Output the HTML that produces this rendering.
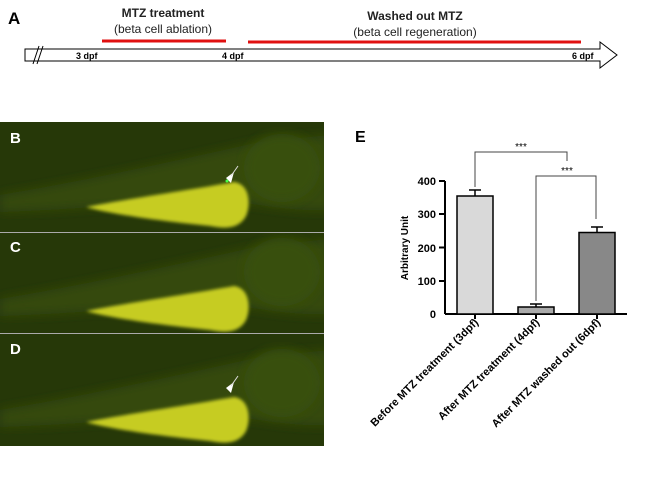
<!DOCTYPE html>
<html><head><style>body{margin:0;background:#fff;width:649px;height:473px;overflow:hidden}</style></head>
<body>
<svg width="649" height="473" viewBox="0 0 649 473" xmlns="http://www.w3.org/2000/svg" font-family="Liberation Sans, sans-serif">
<defs>
<filter id="b2"><feGaussianBlur stdDeviation="1.5"/></filter>
<filter id="b6"><feGaussianBlur stdDeviation="5"/></filter>
<clipPath id="cB"><rect x="0" y="122" width="324" height="110"/></clipPath>
<clipPath id="cC"><rect x="0" y="233" width="324" height="100"/></clipPath>
<clipPath id="cD"><rect x="0" y="334" width="324" height="112"/></clipPath>
<g id="fish">
<rect x="0" y="100" width="330" height="140" fill="#263808"/>
<path d="M0,195 C80,182 180,160 260,142 L330,135 L330,210 C280,212 250,200 200,200 C120,205 60,210 0,212 Z" fill="#34490e" filter="url(#b6)"/>
<ellipse cx="282" cy="168" rx="38" ry="34" fill="#38500f" filter="url(#b6)"/>
<path d="M86,207 C120,200 190,190 234,182 C250,184 251,205 246,216 C239,229 225,229 210,226 C160,221 110,214 86,207 Z" fill="#c6cc20" filter="url(#b2)"/>
</g>
</defs>
<text x="8" y="24" font-size="17" font-weight="bold">A</text>
<text x="163" y="17" font-size="12" text-anchor="middle" font-weight="bold" fill="#222">MTZ treatment</text>
<text x="163" y="33" font-size="12" text-anchor="middle" fill="#222">(beta cell ablation)</text>
<text x="415" y="20" font-size="12" text-anchor="middle" font-weight="bold" fill="#222">Washed out MTZ</text>
<text x="415" y="36" font-size="12" text-anchor="middle" fill="#222">(beta cell regeneration)</text>
<line x1="102" y1="41" x2="226" y2="41" stroke="#e01010" stroke-width="3"/>
<line x1="248" y1="42" x2="581" y2="42" stroke="#e01010" stroke-width="3"/>
<path d="M25,49 L600,49 L600,42 L617,55 L600,68 L600,61 L25,61 Z" fill="#fff" stroke="#000" stroke-width="1"/>
<line x1="33" y1="64" x2="39" y2="46" stroke="#000"/><line x1="37" y1="64" x2="43" y2="46" stroke="#000"/>
<text x="76" y="59" font-size="9" font-weight="bold">3 dpf</text>
<text x="222" y="59" font-size="9" font-weight="bold">4 dpf</text>
<text x="572" y="59" font-size="9" font-weight="bold">6 dpf</text>

<g clip-path="url(#cB)"><use href="#fish"/><polygon points="226,178 234,172 231,183" fill="#fff"/><line x1="231" y1="176" x2="238" y2="166" stroke="#ddd"/><circle cx="227" cy="181" r="1.5" fill="#4f4"/></g>
<g clip-path="url(#cC)"><use href="#fish" transform="translate(0,104)"/></g>
<g clip-path="url(#cD)"><use href="#fish" transform="translate(0,215)"/><polygon points="226,388 234,382 231,393" fill="#fff"/><line x1="231" y1="386" x2="238" y2="376" stroke="#ddd"/></g>
<line x1="0" y1="232.5" x2="324" y2="232.5" stroke="#aaa"/>
<line x1="0" y1="333.5" x2="324" y2="333.5" stroke="#aaa"/>
<text x="10" y="143" font-size="15" font-weight="bold" fill="#fff">B</text>
<text x="10" y="252" font-size="15" font-weight="bold" fill="#fff">C</text>
<text x="10" y="354" font-size="15" font-weight="bold" fill="#fff">D</text>

<text x="355" y="142" font-size="16" font-weight="bold">E</text>
<g stroke="#000" stroke-width="2">
<line x1="445" y1="181" x2="445" y2="314"/>
<line x1="445" y1="314" x2="627" y2="314"/>
<line x1="439" y1="181" x2="445" y2="181"/><line x1="439" y1="214" x2="445" y2="214"/>
<line x1="439" y1="247.5" x2="445" y2="247.5"/><line x1="439" y1="281" x2="445" y2="281"/>
<line x1="475" y1="314" x2="475" y2="319"/><line x1="536" y1="314" x2="536" y2="319"/><line x1="597" y1="314" x2="597" y2="319"/>
</g>
<g font-size="11" font-weight="bold" text-anchor="end">
<text x="436" y="185">400</text><text x="436" y="218">300</text><text x="436" y="252">200</text><text x="436" y="285">100</text><text x="436" y="318">0</text>
</g>
<text transform="translate(408,248) rotate(-90)" font-size="10" font-weight="bold" text-anchor="middle">Arbitrary Unit</text>
<g stroke="#000" stroke-width="1.5">
<line x1="475" y1="196" x2="475" y2="190"/><line x1="469" y1="190" x2="481" y2="190"/>
<line x1="536" y1="311" x2="536" y2="304"/><line x1="530" y1="304" x2="542" y2="304"/>
<line x1="597" y1="237" x2="597" y2="227"/><line x1="591" y1="227" x2="603" y2="227"/>
<rect x="457" y="196" width="36" height="118" fill="#d9d9d9"/>
<rect x="518" y="307" width="36" height="7" fill="#aaa"/>
<rect x="579" y="232.5" width="36" height="81.5" fill="#888"/>
</g>
<g stroke="#444" stroke-width="1" fill="none">
<polyline points="475,187 475,152 567,152 567,161"/>
<polyline points="536,301 536,176 596,176 596,219"/>
</g>
<text x="521" y="150" font-size="10" text-anchor="middle">***</text>
<text x="567" y="174" font-size="10" text-anchor="middle">***</text>
<g font-size="11" font-weight="bold" text-anchor="end">
<text transform="translate(479,323) rotate(-45)">Before MTZ treatment (3dpf)</text>
<text transform="translate(540,323) rotate(-45)">After MTZ treatment (4dpf)</text>
<text transform="translate(601,323) rotate(-45)">After MTZ washed out (6dpf)</text>
</g>
</svg>
</body></html>
